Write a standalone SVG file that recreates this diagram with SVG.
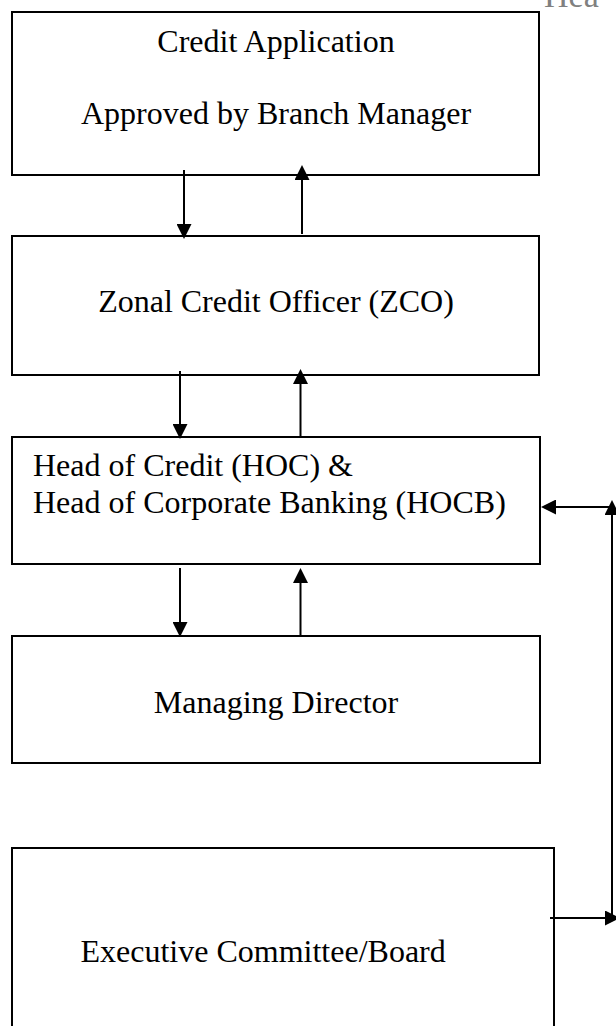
<svg xmlns="http://www.w3.org/2000/svg" width="616" height="1026" viewBox="0 0 616 1026">
  <style>
    .box { fill: #ffffff; stroke: #000000; stroke-width: 2; }
    .label { font-family: "Liberation Serif", "Times New Roman", serif; font-size: 32px; fill: #000000; }
    .mid { text-anchor: middle; }
    .wire { fill: none; stroke: #000000; stroke-width: 2; marker-end: url(#arrow); }
    .header { font-family: "Liberation Serif", "Times New Roman", serif; font-size: 34px; fill: #808080; }
  </style>
  <defs>
    <!-- solid triangular arrowhead; the line stops 4px short of the tip -->
    <marker id="arrow" viewBox="0 0 15 15" refX="11" refY="7.5" markerWidth="15" markerHeight="15" markerUnits="userSpaceOnUse" orient="auto">
      <path d="M0,0 L15,7.5 L0,15 Z" fill="#000000"/>
    </marker>
  </defs>

  <rect width="616" height="1026" fill="#ffffff"/>

  <!-- running page header, cut off at the top edge -->
  <text class="header" x="544" y="7">Hea</text>

  <g id="credit-application">
    <rect class="box" x="12" y="12" width="527" height="163"/>
    <text class="label mid" x="276" y="52">Credit Application</text>
    <text class="label mid" x="276" y="124">Approved by Branch Manager</text>
  </g>

  <g id="zonal-credit-officer">
    <rect class="box" x="12" y="236" width="527" height="139"/>
    <text class="label mid" x="276" y="312">Zonal Credit Officer (ZCO)</text>
  </g>

  <g id="head-of-credit">
    <rect class="box" x="12" y="437" width="528" height="127"/>
    <text class="label" x="33" y="476">Head of Credit (HOC) &amp;</text>
    <text class="label" x="33" y="513">Head of Corporate Banking (HOCB)</text>
  </g>

  <g id="managing-director">
    <rect class="box" x="12" y="636" width="528" height="127"/>
    <text class="label mid" x="276" y="713">Managing Director</text>
  </g>

  <g id="executive-committee">
    <rect class="box" x="12" y="848" width="542" height="190"/>
    <text class="label" x="80.5" y="962">Executive Committee/Board</text>
  </g>

  <g id="connectors">
    <!-- application <-> ZCO -->
    <line class="wire" x1="184" y1="170" x2="184" y2="235"/>
    <line class="wire" x1="302" y1="234" x2="302" y2="169"/>
    <!-- ZCO <-> HOC/HOCB -->
    <line class="wire" x1="180" y1="371" x2="180" y2="435"/>
    <line class="wire" x1="300.5" y1="436" x2="300.5" y2="373"/>
    <!-- HOC/HOCB <-> Managing Director -->
    <line class="wire" x1="180" y1="568" x2="180" y2="633"/>
    <line class="wire" x1="300.5" y1="636" x2="300.5" y2="572"/>
    <!-- Executive Committee/Board <-> HOC/HOCB along the right margin -->
    <line class="wire" x1="612" y1="919" x2="612" y2="504"/>
    <line class="wire" x1="612" y1="507" x2="545" y2="507"/>
    <line class="wire" x1="550" y1="918" x2="616" y2="918"/>
  </g>
</svg>
